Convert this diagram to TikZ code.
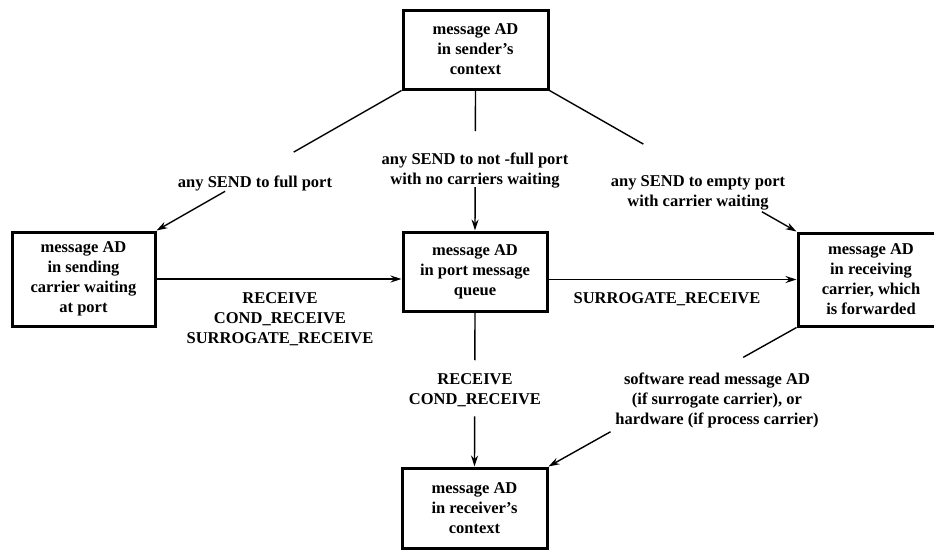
\documentclass[tikz,border=0pt]{standalone}
\usepackage{fontspec}
\setmainfont{Liberation Serif}
\usetikzlibrary{arrows.meta,calc}

\tikzset{
  statebox/.style={draw, line width=3pt, align=center, inner sep=0pt,
    font=\fontsize{16.5}{20}\selectfont\bfseries},
  conn/.style={line width=1.4pt},
  arr/.style={conn, -{Stealth[length=11pt,width=7pt]}},
  lbl/.style={align=center, inner sep=0pt,
    font=\fontsize{16.5}{20}\selectfont\bfseries}
}

\begin{document}
\begin{tikzpicture}[x=1pt,y=-1pt]
  \useasboundingbox (0,0) rectangle (934,550);

  % states of the message AD
  \node[statebox, minimum width=145pt, minimum height=79pt] (top) at (475.5,49.5)
    {message AD\\in sender's\\context};
  \node[statebox, minimum width=143pt, minimum height=94pt] (lbox) at (83.5,279)
    {message AD\\in sending\\carrier waiting\\at port};
  \node[statebox, minimum width=144pt, minimum height=79pt] (cbox) at (475,271.5)
    {message AD\\in port message\\queue};
  \node[statebox, minimum width=146pt, minimum height=93pt] (rbox) at (871,279.5)
    {message AD\\in receiving\\carrier, which\\is forwarded};
  \node[statebox, minimum width=145pt, minimum height=80pt] (bbox) at (474.5,508)
    {message AD\\in receiver's\\context};

  % transition labels
  \node[lbl] (l1) at (255,183) {any SEND to full port};
  \node[lbl] (l2) at (475,171) {any SEND to not -full port\\with no carriers waiting};
  \node[lbl] (l3) at (698,193) {any SEND to empty port\\with carrier waiting};
  \node[lbl] (l4) at (280,319) {RECEIVE\\COND\_RECEIVE\\SURROGATE\_RECEIVE};
  \node[lbl] (l5) at (667,299) {SURROGATE\_RECEIVE};
  \node[lbl] (l6) at (475,390) {RECEIVE\\COND\_RECEIVE};
  \node[lbl] (l7) at (717,400) {software read message AD\\(if surrogate carrier), or\\hardware (if process carrier)};

  % sender's context -> sending carrier
  \draw[conn] (top.south west) -- ($(top.south west)!0.44!(lbox.north east)$);
  \draw[arr] ($(top.south west)!0.72!(lbox.north east)$) -- (lbox.north east);

  % sender's context -> port queue
  \draw[conn] (top.south) -- ($(top.south)!0.29!(cbox.north)$);
  \draw[arr] ($(top.south)!0.69!(cbox.north)$) -- (cbox.north);

  % sender's context -> receiving carrier
  \draw[conn] (top.south east) -- ($(top.south east)!0.38!(rbox.north west)$);
  \draw[arr] ($(top.south east)!0.86!(rbox.north west)$) -- (rbox.north west);

  % horizontal transitions
  \draw[arr] (lbox.east) -- (lbox.east -| cbox.west);
  \draw[arr] (rbox.west -| cbox.east) -- (rbox.west);

  % port queue -> receiver's context
  \draw[conn] (cbox.south) -- ($(cbox.south)!0.31!(bbox.north)$);
  \draw[arr] ($(cbox.south)!0.675!(bbox.north)$) -- (bbox.north);

  % receiving carrier -> receiver's context
  \draw[conn] (rbox.south west) -- ($(rbox.south west)!0.215!(bbox.north east)$);
  \draw[arr] ($(rbox.south west)!0.75!(bbox.north east)$) -- (bbox.north east);
\end{tikzpicture}
\end{document}
